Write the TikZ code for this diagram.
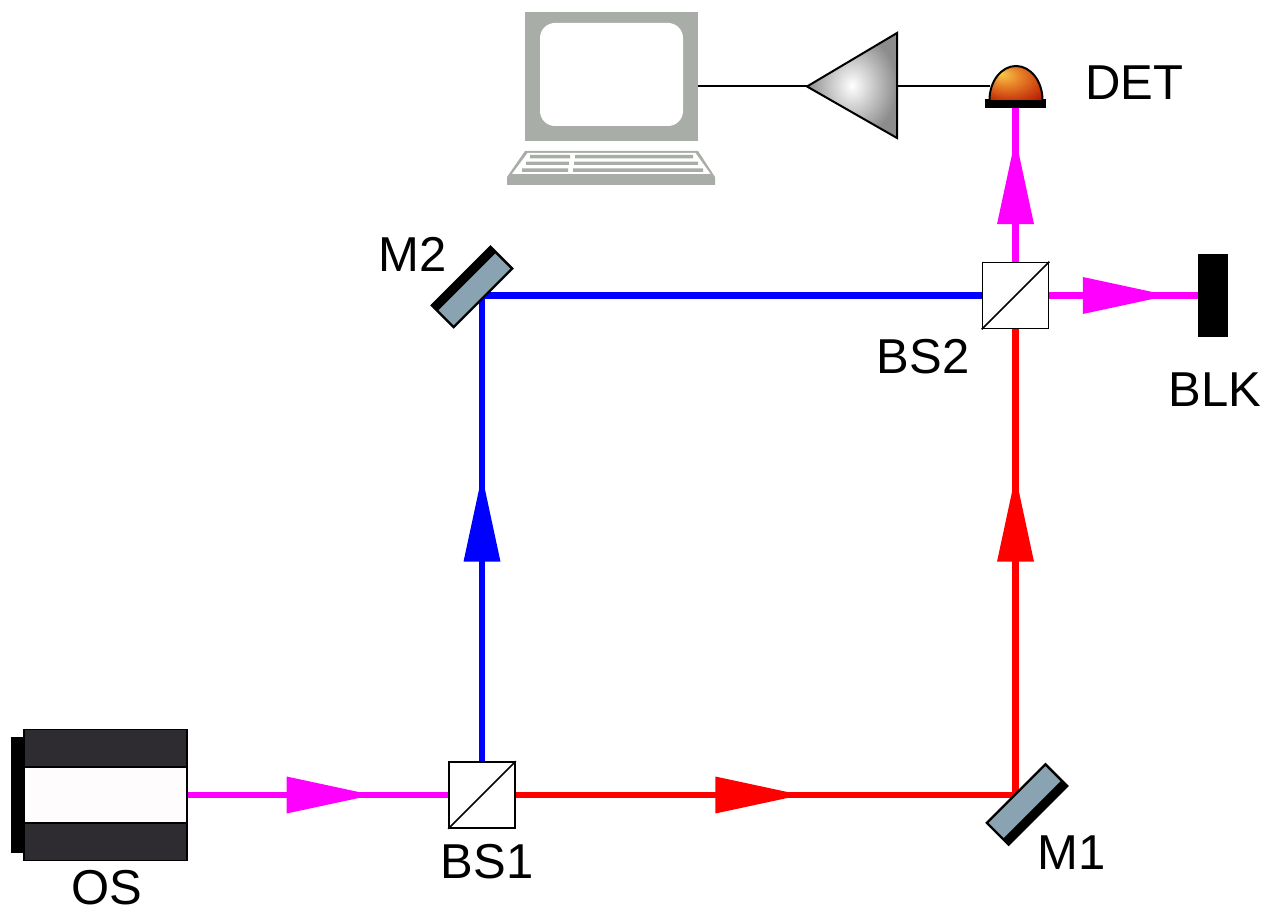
\documentclass[tikz,border=0pt]{standalone}
\usepackage{fontspec}
\setmainfont{Liberation Sans}
\usetikzlibrary{calc,decorations.markings}

\definecolor{beammag}{RGB}{255,0,255}
\definecolor{mirrorgray}{RGB}{138,163,178}
\definecolor{pcgray}{RGB}{169,173,167}
\definecolor{osdark}{RGB}{46,43,49}
\definecolor{oswhite}{RGB}{254,252,253}
\definecolor{domeY}{RGB}{248,200,72}
\definecolor{domeO}{RGB}{232,130,40}
\definecolor{domeR}{RGB}{184,24,0}

\pgfdeclareradialshading{domeshade}{\pgfpoint{-14bp}{14bp}}{%
  color(0bp)=(domeY); color(14bp)=(domeO); color(38bp)=(domeR); color(50bp)=(domeR)}

\tikzset{
  beam/.style={line width=3.4pt},
  beamarrow/.style={postaction={decorate,decoration={markings,
      mark=at position #1 with {\fill (0pt,-9.25pt) -- (43pt,0pt) -- (0pt,9.25pt) -- cycle;}}}},
  splitter/.style={rectangle,draw,line width=0.8pt,fill=white,minimum size=33pt,inner sep=0pt},
  mirror/.style={rectangle,draw,line width=0.8pt,fill=mirrorgray,minimum width=41pt,
      minimum height=15pt,inner sep=0pt,rotate=45},
  lbl/.style={font=\fontsize{24.5}{29}\selectfont,inner sep=0pt},
  wire/.style={line width=1pt}
}

\begin{document}
\begin{tikzpicture}[x=0.5pt,y=-0.5pt]
\useasboundingbox (0,0) rectangle (1275,914);

% ---------- components ----------
\node[rectangle,draw,line width=0.6pt,fill=osdark,minimum width=81.5pt,minimum height=65.5pt,inner sep=0pt]
  (os) at (105.5,795) {};
\node[splitter] (bs1) at (482,795) {};
\node[splitter] (bs2) at (1015.5,295.5) {};
\node[mirror] (m1) at (1027,804.5) {};
\node[mirror] (m2) at (472,287) {};
\node[rectangle,fill=black,minimum width=15pt,minimum height=41.5pt,inner sep=0pt] (blk) at (1213,295.5) {};
\node[rectangle,fill=black,minimum width=30.5pt,minimum height=4.5pt,inner sep=0pt] (det) at (1015.5,103.5) {};
\coordinate (detL) at (990,86.5);
\coordinate (ampR) at (897,86.5);
\coordinate (ampL) at (807,86.5);
\coordinate (pc) at (698,86.5);

% ---------- beams ----------
\draw[beam,beammag,beamarrow=49.5pt] (os.east) -- (bs1.west);
\draw[beam,red,beamarrow=99.75pt,beamarrow=366.5pt] (bs1.east) -| (bs2.south);
\draw[beam,blue,beamarrow=99.75pt] (bs1.north) |- (bs2.west);
\draw[beam,beammag,beamarrow=16.75pt] (bs2.east) -- (blk.west);
\draw[beam,beammag,beamarrow=18.75pt] (bs2.north) -- (det.south);

% ---------- optics drawn over the beams ----------
\node[splitter] at (bs1) {};
\draw[line width=0.8pt] (bs1.south west) -- (bs1.north east);
\node[splitter] at (bs2) {};
\draw[line width=0.8pt] (bs2.south west) -- (bs2.north east);

\node[mirror] at (m1) {};
\fill (m1.south west) -- (m1.south east) -- ($(m1.south east)!0.27!(m1.north east)$)
  -- ($(m1.south west)!0.27!(m1.north west)$) -- cycle;
\draw[line width=0.8pt] (m1.south west) -- (m1.south east) -- (m1.north east) -- (m1.north west) -- cycle;

\node[mirror] at (m2) {};
\fill (m2.north west) -- (m2.north east) -- ($(m2.north east)!0.27!(m2.south east)$)
  -- ($(m2.north west)!0.27!(m2.south west)$) -- cycle;
\draw[line width=0.8pt] (m2.south west) -- (m2.south east) -- (m2.north east) -- (m2.north west) -- cycle;

% light source body
\filldraw[fill=oswhite,draw=black,line width=0.6pt] (24,767) rectangle (187,823);
\fill (11,737) rectangle (24,853);

% detector dome
\shade[shading=domeshade] (989.5,100) arc[start angle=180,end angle=360,x radius=26.5,y radius=34] -- cycle;
\draw[line width=1pt] (989.5,100) arc[start angle=180,end angle=360,x radius=26.5,y radius=34];

% ---------- electronics ----------
\draw[wire] (detL) -- (ampR);
\shade[inner color=white,outer color=black!45] (897,33) -- (ampL) -- (897,138) -- cycle;
\draw[line width=1pt,line join=miter] (897,33) -- (ampL) -- (897,138) -- cycle;
\draw[wire] (ampL) -- (pc);

% computer
\fill[pcgray] (525,12) rectangle (698,141);
\fill[white,rounded corners=7.5pt] (540,23) rectangle (683,126);
\fill[pcgray] (525,151) -- (698,151) -- (715,177) -- (715,185) -- (507,185) -- (507,177) -- cycle;
\fill[white] (527.5,153) -- (695.5,153) -- (710.5,174) -- (512,174) -- cycle;
\fill[pcgray] (530,155) rectangle (570,158.5) (575,155) rectangle (693,158.5);
\fill[pcgray] (526,161.7) rectangle (569,165) (574,161.7) rectangle (698,165);
\fill[pcgray] (522,168.3) rectangle (568,172) (573,168.3) rectangle (703,172);

% ---------- labels ----------
\node[lbl] (lm2) at (413,254) {M2};
\node[lbl] (lm1) at (1072,853) {M1};
\node[lbl] (lbs1) at (487,862) {BS1};
\node[lbl] (lbs2) at (923,357) {BS2};
\node[lbl] (lblk) at (1215,390) {BLK};
\node[lbl] (los) at (107,888) {OS};
\node[lbl] (ldet) at (1134,83) {DET};
\end{tikzpicture}
\end{document}
